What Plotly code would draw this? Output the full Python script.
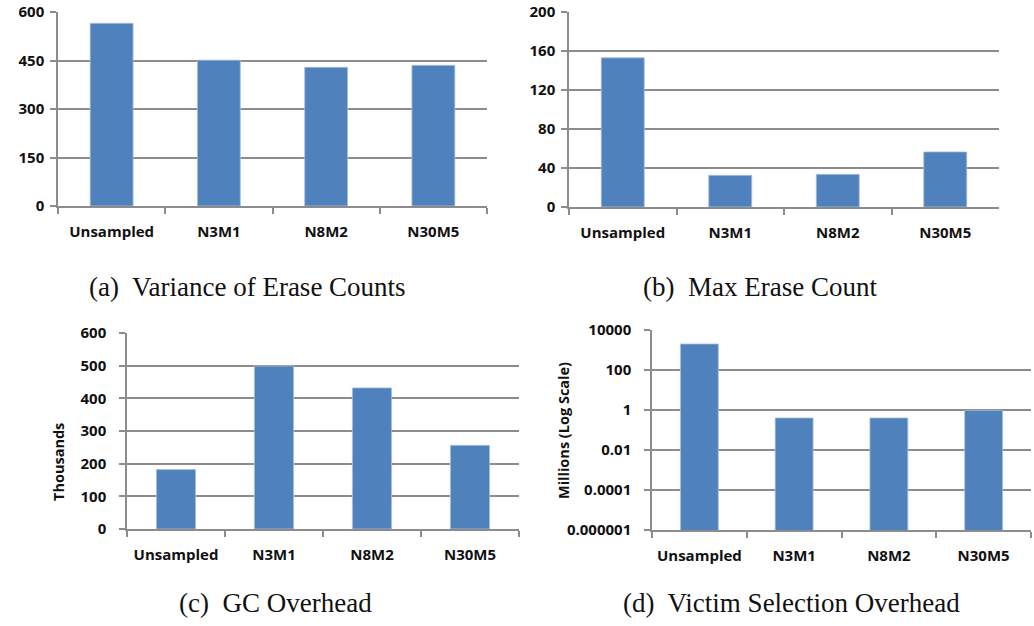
import plotly.graph_objects as go

# Sampling configurations shown on every panel
categories = ["Unsampled", "N3M1", "N8M2", "N30M5"]

# (a) Variance of erase counts
variance_erase = [565, 451, 429, 435]
# (b) Maximum erase count
max_erase = [153, 32.5, 33.5, 56.5]
# (c) GC overhead, in thousands
gc_overhead_k = [182, 499, 432, 256]
# (d) Victim selection overhead, in millions (log scale)
victim_overhead_m = [2000, 0.4, 0.4, 0.96]

ticks_a = [0, 150, 300, 450, 600]
ticks_b = [0, 40, 80, 120, 160, 200]
ticks_c = [0, 100, 200, 300, 400, 500, 600]
ticks_d = [0.000001, 0.0001, 0.01, 1, 100, 10000]
ticktext_d = ["0.000001", "0.0001", "0.01", "1", "100", "10000"]

captions = [
    "(a)  Variance of Erase Counts",
    "(b)  Max Erase Count",
    "(c)  GC Overhead",
    "(d)  Victim Selection Overhead",
]

W, H = 1034, 626
BAR = "#4F81BD"
GRID = "#8C8C8C"
TICK_FONT = dict(family="Open Sans", size=15, color="#111111", weight=700)


def px_x(p):
    return p / W


def px_y(p):
    return 1 - p / H


# plot-area boxes in pixels: (left, right, top, bottom)
boxes = [
    (58, 487, 12, 206),
    (569, 999, 12, 207),
    (127, 519, 333, 529),
    (652, 1031, 330, 530),
]

series = [variance_erase, max_erase, gc_overhead_k, victim_overhead_m]

fig = go.Figure()
for i, vals in enumerate(series):
    sfx = "" if i == 0 else str(i + 1)
    fig.add_trace(go.Bar(
        x=categories, y=vals,
        marker=dict(color=BAR, line=dict(color="#A9C0DE", width=0.8)),
        width=0.4,
        xaxis="x" + sfx, yaxis="y" + sfx,
        showlegend=False,
    ))

layout = dict(
    width=W, height=H,
    margin=dict(l=0, r=0, t=0, b=0, autoexpand=False),
    paper_bgcolor="white", plot_bgcolor="white",
)

y_specs = [
    dict(range=[0, 600], tickvals=ticks_a, ticklabelstandoff=3),
    dict(range=[0, 200], tickvals=ticks_b, ticklabelstandoff=3),
    dict(range=[0, 600], tickvals=ticks_c, ticklabelstandoff=10),
    dict(type="log", range=[-6, 4], tickvals=ticks_d, ticktext=ticktext_d,
         ticklabelstandoff=10),
]

for i, (l, r, t, b) in enumerate(boxes):
    sfx = "" if i == 0 else str(i + 1)
    xa = "xaxis" + sfx
    ya = "yaxis" + sfx
    layout[xa] = dict(
        domain=[px_x(l), px_x(r)],
        anchor="y" + sfx,
        type="category",
        tickson="boundaries",
        ticks="outside", ticklen=6, tickwidth=1.5, tickcolor=GRID,
        showline=True, linecolor=GRID, linewidth=1.5,
        showgrid=False, zeroline=False,
        tickfont=TICK_FONT,
        tickangle=0,
        ticklabelstandoff=11,
        ticklabeloverflow="allow",
        automargin=False,
        fixedrange=True,
    )
    yspec = dict(
        domain=[px_y(b), px_y(t)],
        anchor="x" + sfx,
        ticks="outside", ticklen=6, tickwidth=1.5, tickcolor=GRID,
        showline=True, linecolor=GRID, linewidth=1.5,
        showgrid=True, gridcolor=GRID, gridwidth=1.5,
        zeroline=False,
        tickfont=TICK_FONT,
        ticklabeloverflow="allow",
        automargin=False,
        fixedrange=True,
    )
    yspec.update(y_specs[i])
    layout[ya] = yspec

fig.update_layout(**layout)

# rotated axis titles
title_font = dict(family="Open Sans", size=14.5, color="#111111", weight=700)
fig.add_annotation(x=px_x(58), y=px_y(462), xref="paper", yref="paper",
                   xanchor="center", yanchor="middle",
                   text="Thousands", textangle=-90, showarrow=False,
                   font=title_font)
fig.add_annotation(x=px_x(563), y=px_y(431), xref="paper", yref="paper",
                   xanchor="center", yanchor="middle",
                   text="Millions (Log Scale)", textangle=-90, showarrow=False,
                   font=title_font)

# sub-figure captions
cap_pos = [(247, 287), (760, 287), (275, 603), (791, 603)]
for text, (cx, cy) in zip(captions, cap_pos):
    fig.add_annotation(x=px_x(cx), y=px_y(cy), xref="paper", yref="paper",
                       xanchor="center", yanchor="middle",
                       text=text, showarrow=False,
                       font=dict(family="Liberation Serif", size=27, color="#111111"))

fig.write_html("out.html")
